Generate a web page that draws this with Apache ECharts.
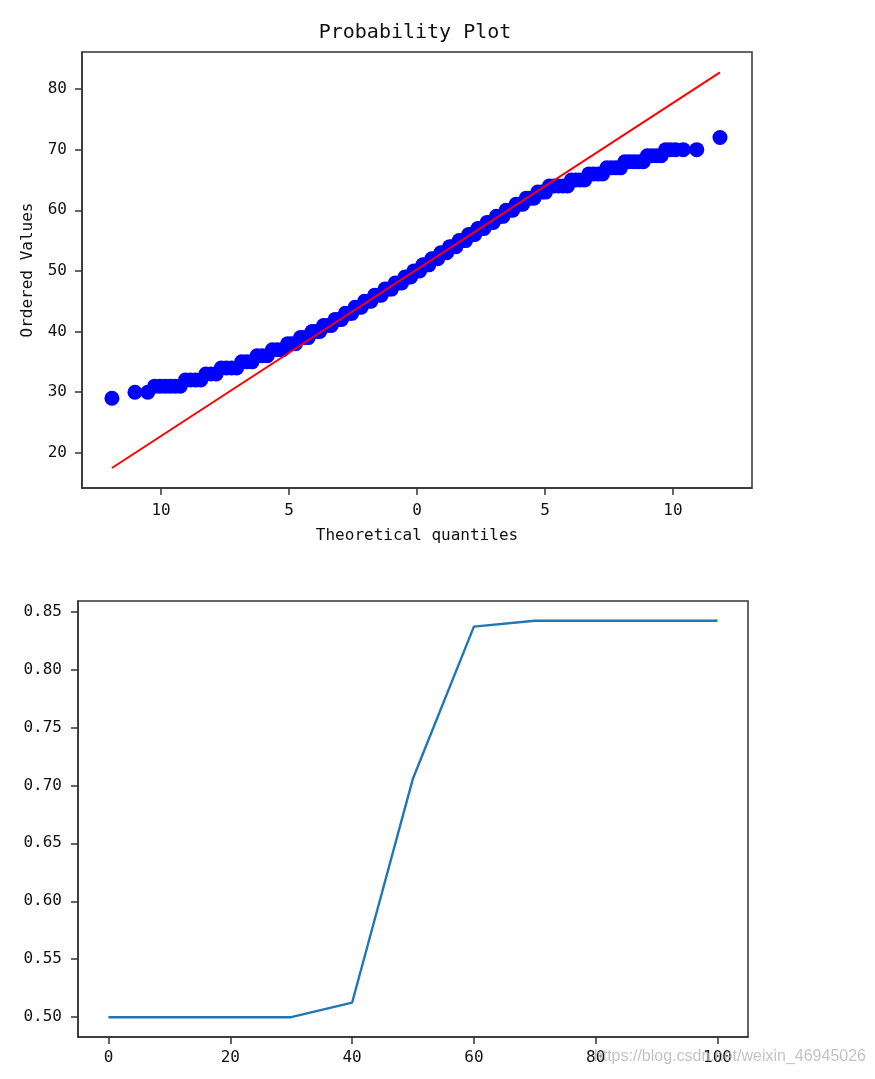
<!DOCTYPE html>
<html><head><meta charset="utf-8">
<script src="https://cdn.jsdelivr.net/npm/echarts@6/dist/echarts.min.js"></script>
<style>html,body{margin:0;padding:0;background:#fff}#c{width:875px;height:1079px}</style>
</head><body><div id="c"></div>
<script>
// ---- Top panel: probability plot (theoretical quantiles vs ordered values) ----
const qqX = [
  -11.92,
  -11.02, -10.52,
  -10.25, -10.05, -9.85, -9.65, -9.45, -9.25,
  -9.05, -8.85, -8.65, -8.45,
  -8.25, -8.05, -7.85,
  -7.65, -7.45, -7.25, -7.05,
  -6.85, -6.65, -6.45,
  -6.25, -6.05, -5.85,
  -5.65, -5.45, -5.25,
  -5.05, -4.9, -4.75,
  -4.55, -4.4, -4.25,
  -4.1, -3.95, -3.8,
  -3.65, -3.5, -3.35,
  -3.2, -3.05, -2.95,
  -2.8, -2.65, -2.55,
  -2.42, -2.3, -2.18,
  -2.05, -1.92, -1.8,
  -1.65, -1.52, -1.4,
  -1.25, -1.12, -1.0,
  -0.85, -0.72, -0.6,
  -0.47, -0.36, -0.25,
  -0.12, 0.0, 0.1,
  0.23, 0.35, 0.46,
  0.58, 0.7, 0.81,
  0.93, 1.05, 1.16,
  1.28, 1.4, 1.52,
  1.65, 1.78, 1.9,
  2.02, 2.14, 2.26,
  2.38, 2.5, 2.62,
  2.74, 2.86, 2.98,
  3.1, 3.23, 3.36,
  3.48, 3.61, 3.74,
  3.87, 4.0, 4.13,
  4.27, 4.42, 4.57,
  4.72, 4.87, 5.02,
  5.17, 5.35, 5.53, 5.71, 5.88,
  6.03, 6.2, 6.37, 6.55,
  6.72, 6.9, 7.08, 7.25,
  7.42, 7.6, 7.78, 7.95,
  8.12, 8.3, 8.48, 8.66, 8.84,
  9.0, 9.18, 9.36, 9.54,
  9.72, 9.9, 10.1, 10.4, 10.93,
  11.84
];
const qqY = [
  29,
  30, 30,
  31, 31, 31, 31, 31, 31,
  32, 32, 32, 32,
  33, 33, 33,
  34, 34, 34, 34,
  35, 35, 35,
  36, 36, 36,
  37, 37, 37,
  38, 38, 38,
  39, 39, 39,
  40, 40, 40,
  41, 41, 41,
  42, 42, 42,
  43, 43, 43,
  44, 44, 44,
  45, 45, 45,
  46, 46, 46,
  47, 47, 47,
  48, 48, 48,
  49, 49, 49,
  50, 50, 50,
  51, 51, 51,
  52, 52, 52,
  53, 53, 53,
  54, 54, 54,
  55, 55, 55,
  56, 56, 56,
  57, 57, 57,
  58, 58, 58,
  59, 59, 59,
  60, 60, 60,
  61, 61, 61,
  62, 62, 62,
  63, 63, 63,
  64, 64, 64, 64, 64,
  65, 65, 65, 65,
  66, 66, 66, 66,
  67, 67, 67, 67,
  68, 68, 68, 68, 68,
  69, 69, 69, 69,
  70, 70, 70, 70, 70,
  72
];
const fitX = [-11.92, 11.84];
const fitY = [17.5, 82.75];
const topXTicks = [-10, -5, 0, 5, 10];
const topYTicks = [20, 30, 40, 50, 60, 70, 80];

// ---- Bottom panel: line ----
const thresholds = [0, 10, 20, 30, 40, 50, 60, 70, 80, 90, 100];
const scores = [0.5, 0.5, 0.5, 0.5, 0.5125, 0.706, 0.837, 0.842, 0.842, 0.842, 0.842];
const botXTicks = [0, 20, 40, 60, 80, 100];
const botYTicks = [0.50, 0.55, 0.60, 0.65, 0.70, 0.75, 0.80, 0.85];

const titleText = 'Probability Plot';
const xName = 'Theoretical quantiles';
const yName = 'Ordered Values';
const watermark = 'https://blog.csdn.net/weixin_46945026';

const mono = "'DejaVu Sans Mono', monospace";
const axisCol = '#333';
const txtCol = '#111';

function axisBase(ticks, fmt, margin) {
  return {
    axisLine: { show: true, onZero: false, lineStyle: { color: axisCol, width: 1.5 } },
    axisTick: { show: true, inside: false, length: 7, customValues: ticks, lineStyle: { color: axisCol, width: 1.5 } },
    axisLabel: { show: true, customValues: ticks, formatter: fmt, margin: margin,
      fontFamily: mono, fontSize: 16, color: txtCol },
    splitLine: { show: false }
  };
}

const chart = echarts.init(document.getElementById('c'), null, { renderer: 'canvas' });
const option = {
  animation: false,
  backgroundColor: '#fff',
  grid: [
    { left: 82, top: 52, width: 670, height: 436, show: true, borderColor: axisCol, borderWidth: 1.5, backgroundColor: 'transparent' },
    { left: 78, top: 601, width: 670, height: 436, show: true, borderColor: axisCol, borderWidth: 1.5, backgroundColor: 'transparent' }
  ],
  xAxis: [
    Object.assign({ type: 'value', gridIndex: 0, min: -13.09, max: 13.09,
      name: xName, nameLocation: 'middle', nameGap: 40,
      nameTextStyle: { fontFamily: mono, fontSize: 16, color: txtCol } },
      axisBase(topXTicks, v => String(Math.abs(v)), 15)),
    Object.assign({ type: 'value', gridIndex: 1, min: -5, max: 105 },
      axisBase(botXTicks, v => String(v), 13))
  ],
  yAxis: [
    Object.assign({ type: 'value', gridIndex: 0, min: 14.2, max: 86.1,
      name: yName, nameLocation: 'middle', nameGap: 46,
      nameTextStyle: { fontFamily: mono, fontSize: 16, color: txtCol } },
      axisBase(topYTicks, v => String(v), 15)),
    Object.assign({ type: 'value', gridIndex: 1, min: 0.4829, max: 0.8591 },
      axisBase(botYTicks, v => v.toFixed(2), 16))
  ],
  series: [
    {
      type: 'scatter', xAxisIndex: 0, yAxisIndex: 0,
      symbol: 'circle', symbolSize: 15,
      itemStyle: { color: '#0000ff', opacity: 1 },
      data: qqX.map((x, i) => [x, qqY[i]]),
      z: 2
    },
    {
      type: 'line', xAxisIndex: 0, yAxisIndex: 0,
      showSymbol: false, symbol: 'none',
      lineStyle: { color: '#ff0000', width: 2 },
      data: fitX.map((x, i) => [x, fitY[i]]),
      z: 3
    },
    {
      type: 'line', xAxisIndex: 1, yAxisIndex: 1,
      showSymbol: false, symbol: 'none',
      lineStyle: { color: '#1f77b4', width: 2.4 },
      data: thresholds.map((x, i) => [x, scores[i]]),
      z: 3
    }
  ],
  graphic: [
    { type: 'text', x: 415, y: 33, z: 10,
      style: { text: titleText, font: "normal 20px 'DejaVu Sans Mono', monospace", fill: '#111',
        align: 'center', verticalAlign: 'middle' } },
    { type: 'text', x: 866, y: 1057, z: 10,
      style: { text: watermark, font: "normal 16px 'Liberation Sans', Arial, sans-serif", fill: 'rgba(180,180,180,0.8)',
        align: 'right', verticalAlign: 'middle' } }
  ]
};
chart.setOption(option);
</script>
</body></html>
